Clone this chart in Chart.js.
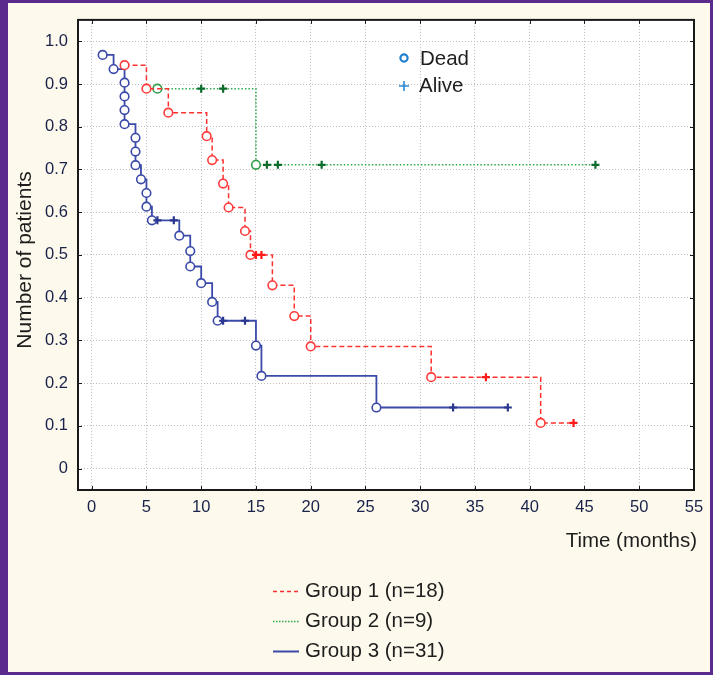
<!DOCTYPE html>
<html>
<head>
<meta charset="utf-8">
<title>Survival by group</title>
<script src="https://cdn.jsdelivr.net/npm/chart.js@4.4.1/dist/chart.umd.min.js"></script>
<style>
  html, body { margin: 0; padding: 0; background: #fdf9ec; }
  #chart { display: block; }
</style>
</head>
<body>
<canvas id="chart" width="713" height="675"></canvas>
<script>
"use strict";

/* ================================
   DATA
   ================================ */
const xTicks = [0, 5, 10, 15, 20, 25, 30, 35, 40, 45, 50, 55];
const yTicks = [0, 0.1, 0.2, 0.3, 0.4, 0.5, 0.6, 0.7, 0.8, 0.9, 1.0];

const groupLabels = ["Group 1 (n=18)", "Group 2 (n=9)", "Group 3 (n=31)"];
const markerLabels = ["Dead", "Alive"];

// D = dead (circle), A = alive / censored (cross)
const g1Time  = [3, 5, 7, 10.5, 11, 12, 12.5, 14, 14.5, 15, 15.5, 16.5, 18.5, 20, 31, 36, 41, 44];
const g1Surv  = [0.944, 0.889, 0.833, 0.778, 0.722, 0.667, 0.611, 0.556, 0.5, 0.5, 0.5, 0.429, 0.357, 0.286, 0.214, 0.214, 0.107, 0.107];
const g1Event = ["D","D","D","D","D","D","D","D","D","A","A","D","D","D","D","A","D","A"];

const g2Time  = [6, 10, 12, 15, 16, 17, 21, 46];
const g2Surv  = [0.889, 0.889, 0.889, 0.711, 0.711, 0.711, 0.711, 0.711];
const g2Event = ["D","A","A","D","A","A","A","A"];

const g3Time  = [1, 2, 3, 3, 3, 3, 4, 4, 4, 4.5, 5, 5, 5.5, 6, 7.5, 8, 9, 9, 10, 11, 11.5, 12, 14, 15, 15.5, 26, 33, 38];
const g3Surv  = [0.968, 0.935, 0.903, 0.871, 0.839, 0.806, 0.774, 0.742, 0.710, 0.677, 0.645, 0.613, 0.581, 0.581, 0.581,
                 0.545, 0.509, 0.473, 0.434, 0.390, 0.346, 0.346, 0.346, 0.288, 0.217, 0.143, 0.143, 0.143];
const g3Event = ["D","D","D","D","D","D","D","D","D","D","D","D","D","A","A","D","D","D","D","D","D","A","A","D","D","D","A","A"];

/* ================================
   STYLE
   ================================ */
const FONT = "'Liberation Sans', Arial, sans-serif";
const PURPLE = "#5a2b8c";
const CREAM = "#fdf9ec";
const TEXT = "#1e1e1e";
const TICK_TEXT = "#18224a";

const groupStyle = [
  { line: "#ff3030", dead: "#ff3b3b", alive: "#ff1a1a", dash: [5, 3], width: 1.5 },
  { line: "#2ea84c", dead: "#2e9e4a", alive: "#0d6b2b", dash: [1.5, 2], width: 1.6 },
  { line: "#3b4aa8", dead: "#3b4aa8", alive: "#2a3790", dash: [], width: 1.8 }
];

/* ================================
   HELPERS
   ================================ */
function makeDataset(i, times, surv, events) {
  const st = groupStyle[i];
  return {
    label: groupLabels[i],
    data: times.map((t, k) => ({ x: t, y: surv[k] })),
    stepped: true,
    borderColor: st.line,
    borderWidth: st.width,
    borderDash: st.dash,
    fill: false,
    pointStyle: ctx => events[ctx.dataIndex] === "D" ? "circle" : "cross",
    pointRadius: ctx => events[ctx.dataIndex] === "D" ? 4.3 : 4,
    pointBorderWidth: ctx => events[ctx.dataIndex] === "D" ? 1.6 : 2.2,
    pointBorderColor: ctx => events[ctx.dataIndex] === "D" ? st.dead : st.alive,
    pointBackgroundColor: "#ffffff"
  };
}

/* ================================
   PLUGIN: background, frame, texts
   ================================ */
const decorPlugin = {
  id: "decor",
  beforeDraw(chart) {
    const { ctx, chartArea: a, width, height } = chart;
    ctx.save();
    ctx.fillStyle = PURPLE;
    ctx.fillRect(0, 0, width, height);
    ctx.fillStyle = CREAM;
    ctx.fillRect(8, 3, width - 11, height - 6);
    ctx.fillStyle = "#ffffff";
    ctx.fillRect(a.left, a.top, a.right - a.left, a.bottom - a.top);
    ctx.restore();
  },
  afterDatasetsDraw(chart) {
    const { ctx, chartArea: a, scales } = chart;
    ctx.save();
    ctx.strokeStyle = "#1a1a1a";
    ctx.lineWidth = 1;
    // inward tick marks on all four sides
    ctx.beginPath();
    xTicks.forEach(v => {
      const px = Math.round(scales.x.getPixelForValue(v)) + 0.5;
      if (px > a.right - 2) return;
      ctx.moveTo(px, a.bottom); ctx.lineTo(px, a.bottom - 4);
      ctx.moveTo(px, a.top); ctx.lineTo(px, a.top + 4);
    });
    yTicks.forEach(v => {
      const py = Math.round(scales.y.getPixelForValue(v)) + 0.5;
      ctx.moveTo(a.left, py); ctx.lineTo(a.left + 4, py);
      ctx.moveTo(a.right, py); ctx.lineTo(a.right - 4, py);
    });
    ctx.stroke();
    // frame
    ctx.lineWidth = 2;
    ctx.strokeRect(a.left, a.top, a.right - a.left, a.bottom - a.top);
    ctx.restore();
  },
  afterDraw(chart) {
    const { ctx } = chart;
    ctx.save();
    ctx.fillStyle = TEXT;
    ctx.textBaseline = "middle";

    // axis titles
    ctx.font = "21px " + FONT;
    ctx.save();
    ctx.translate(25, 260);
    ctx.rotate(-Math.PI / 2);
    ctx.textAlign = "center";
    ctx.fillText("Number of patients", 0, 0);
    ctx.restore();

    ctx.font = "20.5px " + FONT;
    ctx.textAlign = "right";
    ctx.fillText("Time (months)", 697, 541);

    // marker legend inside plot
    ctx.textAlign = "left";
    ctx.strokeStyle = "#1f7fd0";
    ctx.lineWidth = 2.2;
    ctx.beginPath();
    ctx.arc(404, 58, 3.6, 0, Math.PI * 2);
    ctx.stroke();
    ctx.strokeStyle = "#2b8ad6";
    ctx.lineWidth = 1.6;
    ctx.beginPath();
    ctx.moveTo(399, 86); ctx.lineTo(409, 86);
    ctx.moveTo(404, 81); ctx.lineTo(404, 91);
    ctx.stroke();
    ctx.fillText(markerLabels[0], 420, 59);
    ctx.fillText(markerLabels[1], 419, 86);

    // group legend below
    groupLabels.forEach((label, i) => {
      const st = groupStyle[i];
      const y = 591 + i * 30;
      ctx.strokeStyle = st.line;
      ctx.lineWidth = i === 2 ? 2 : 1.5;
      ctx.setLineDash(i === 0 ? [4, 3] : i === 1 ? [1.5, 1.5] : []);
      ctx.beginPath();
      ctx.moveTo(273, y + 0.5);
      ctx.lineTo(299, y + 0.5);
      ctx.stroke();
      ctx.setLineDash([]);
      ctx.fillText(label, 305, y);
    });
    ctx.restore();
  }
};

/* ================================
   CHART
   ================================ */
const tickFont = { family: FONT, size: 16.5 };

new Chart(document.getElementById("chart").getContext("2d"), {
  type: "line",
  data: {
    datasets: [
      makeDataset(0, g1Time, g1Surv, g1Event),
      makeDataset(1, g2Time, g2Surv, g2Event),
      makeDataset(2, g3Time, g3Surv, g3Event)
    ]
  },
  options: {
    responsive: false,
    devicePixelRatio: 1,
    animation: false,
    events: [],
    layout: { padding: { left: 0, top: 13, right: 19, bottom: 0 } },
    plugins: { legend: { display: false }, tooltip: { enabled: false } },
    scales: {
      x: {
        type: "linear",
        min: -1.25,
        max: 55,
        afterBuildTicks: s => { s.ticks = xTicks.map(v => ({ value: v })); },
        afterFit: s => { s.height = 185; },
        ticks: { font: tickFont, color: TICK_TEXT, padding: 8, maxRotation: 0, autoSkip: false },
        grid: { color: "#bdbdbd", lineWidth: 1, drawTicks: false },
        border: { display: false, dash: [1, 2] }
      },
      y: {
        min: -0.05,
        max: 1.05,
        afterBuildTicks: s => { s.ticks = yTicks.map(v => ({ value: v })); },
        afterFit: s => { s.width = 78; },
        ticks: {
          font: tickFont,
          color: TICK_TEXT,
          padding: 10,
          callback: v => v === 0 ? "0" : v.toFixed(1)
        },
        grid: { color: "#bdbdbd", lineWidth: 1, drawTicks: false },
        border: { display: false, dash: [1, 2] }
      }
    }
  },
  plugins: [decorPlugin]
});
</script>
</body>
</html>
